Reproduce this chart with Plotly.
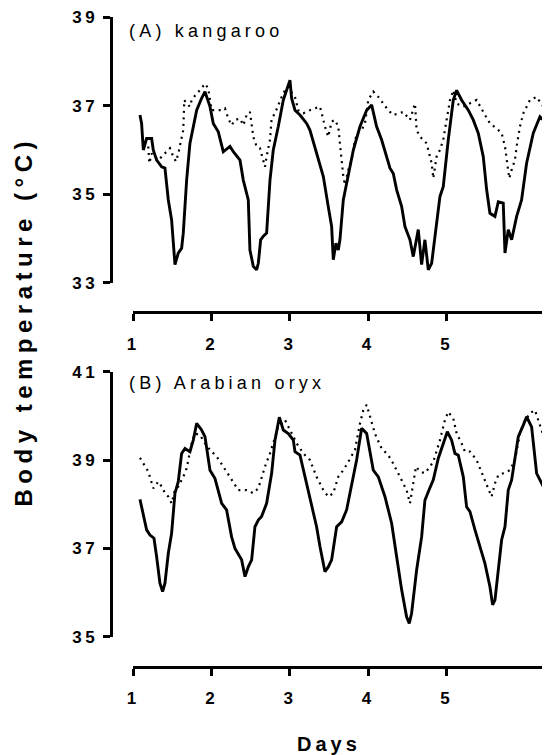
import plotly.graph_objects as go

# ---------------- data ----------------
kangaroo_solid_days = [
    1.085, 1.106, 1.128, 1.17, 1.234, 1.255, 1.298, 1.362, 1.404, 1.447,
    1.489, 1.532, 1.574, 1.617, 1.638, 1.681, 1.723, 1.766, 1.809, 1.872,
    1.915, 1.979, 2.021, 2.085, 2.149, 2.234, 2.277, 2.362, 2.404, 2.468,
    2.489, 2.532, 2.574, 2.596, 2.626, 2.66, 2.702, 2.745, 2.787, 2.851,
    2.915, 2.957, 3.0, 3.021, 3.064, 3.128, 3.213, 3.255, 3.34, 3.426,
    3.489, 3.532, 3.553, 3.587, 3.617, 3.638, 3.681, 3.745, 3.809, 3.894,
    3.979, 4.043, 4.106, 4.17, 4.234, 4.277, 4.319, 4.362, 4.426, 4.468,
    4.532, 4.574, 4.638, 4.681, 4.723, 4.766, 4.809, 4.872, 4.915, 4.957,
    5.021, 5.085, 5.128, 5.191, 5.277, 5.34, 5.404, 5.468, 5.511, 5.553,
    5.617, 5.66, 5.723, 5.745, 5.787, 5.83, 5.894, 5.957, 6.021, 6.106,
    6.191, 6.255, 6.319]
kangaroo_solid_temp = [
    36.79, 36.60, 36.0, 36.26, 36.26, 36.0, 35.77, 35.62, 35.59, 34.87,
    34.42, 33.41, 33.67, 33.78, 34.12, 35.32, 36.15, 36.53, 36.90, 37.17,
    37.32, 36.98, 36.60, 36.41, 35.96, 36.08, 35.96, 35.77, 35.32, 34.87,
    33.74, 33.37, 33.29, 33.44, 33.97, 34.05, 34.12, 35.32, 36.0, 36.53,
    37.13, 37.35, 37.58, 37.17, 36.90, 36.79, 36.60, 36.45, 35.92, 35.40,
    34.72, 34.27, 33.52, 33.89, 33.74, 33.97, 34.87, 35.47, 36.0, 36.53,
    36.90, 37.02, 36.53, 36.23, 35.85, 35.59, 35.47, 35.10, 34.72, 34.27,
    33.97, 33.59, 34.20, 33.41, 33.97, 33.29, 33.44, 34.27, 34.95, 35.17,
    36.23, 37.13, 37.35, 37.13, 36.90, 36.68, 36.38, 35.85, 35.10, 34.57,
    34.50, 34.83, 34.80, 33.67, 34.20, 33.97, 34.50, 34.87, 35.70, 36.38,
    36.75, 36.64, 36.53]

kangaroo_dot_days = [
    1.191, 1.204, 1.234, 1.277, 1.319, 1.362, 1.426, 1.468, 1.511, 1.545,
    1.574, 1.596, 1.638, 1.651, 1.681, 1.723, 1.745, 1.809, 1.851, 1.915,
    1.957, 2.0, 2.064, 2.128, 2.17, 2.213, 2.255, 2.298, 2.362, 2.404,
    2.447, 2.489, 2.532, 2.574, 2.617, 2.66, 2.681, 2.702, 2.745, 2.766,
    2.809, 2.894, 2.957, 3.0, 3.064, 3.106, 3.17, 3.255, 3.383, 3.426,
    3.447, 3.489, 3.532, 3.574, 3.617, 3.638, 3.66, 3.681, 3.702, 3.745,
    3.787, 3.83, 3.872, 3.915, 3.957, 4.0, 4.064, 4.128, 4.191, 4.255,
    4.319, 4.383, 4.447, 4.532, 4.596, 4.617, 4.66, 4.702, 4.745, 4.766,
    4.809, 4.83, 4.872, 4.915, 4.957, 5.0, 5.043, 5.085, 5.128, 5.213,
    5.298, 5.383, 5.468, 5.553, 5.638, 5.702, 5.745, 5.766, 5.8, 5.83,
    5.872, 5.894, 5.936, 5.979, 6.064, 6.149, 6.234, 6.319]
kangaroo_dot_temp = [
    36.08, 35.70, 35.92, 35.85, 35.77, 35.85, 35.96, 36.04, 35.85, 35.74,
    35.92, 36.08, 36.45, 37.13, 37.05, 36.98, 37.13, 37.28, 37.35, 37.50,
    37.39, 36.90, 36.90, 36.90, 36.94, 36.71, 36.56, 36.68, 36.71, 36.56,
    36.79, 36.86, 36.30, 36.08, 36.04, 35.77, 35.62, 35.85, 36.23, 36.71,
    36.83, 37.20, 37.43, 37.35, 37.20, 36.90, 36.83, 36.90, 36.98, 36.68,
    36.53, 36.30, 36.64, 36.68, 36.53, 36.15, 35.77, 35.40, 35.21, 35.55,
    35.77, 36.23, 36.41, 36.45, 36.60, 37.13, 37.32, 37.20, 37.05, 36.90,
    36.79, 36.83, 36.86, 36.68, 37.05, 36.45, 36.30, 36.23, 36.15, 36.0,
    35.70, 35.36, 35.85, 36.0, 36.23, 36.68, 37.13, 37.35, 37.05, 36.98,
    37.05, 37.13, 36.86, 36.60, 36.49, 36.38, 36.08, 35.77, 35.36, 35.55,
    35.77, 36.08, 36.53, 36.83, 37.13, 37.20, 36.98, 36.83]

oryx_solid_days = [
    1.085, 1.128, 1.17, 1.213, 1.264, 1.298, 1.34, 1.374, 1.404, 1.447,
    1.489, 1.532, 1.574, 1.617, 1.66, 1.723, 1.766, 1.809, 1.872, 1.915,
    1.979, 2.043, 2.128, 2.191, 2.255, 2.298, 2.383, 2.426, 2.468, 2.511,
    2.553, 2.596, 2.638, 2.702, 2.766, 2.809, 2.864, 2.915, 2.979, 3.043,
    3.064, 3.128, 3.213, 3.277, 3.34, 3.383, 3.447, 3.489, 3.532, 3.596,
    3.66, 3.723, 3.809, 3.851, 3.915, 3.979, 4.064, 4.128, 4.213, 4.298,
    4.362, 4.426, 4.489, 4.523, 4.553, 4.617, 4.681, 4.723, 4.766, 4.83,
    4.894, 4.957, 5.009, 5.064, 5.106, 5.149, 5.213, 5.255, 5.298, 5.362,
    5.426, 5.489, 5.553, 5.587, 5.617, 5.66, 5.702, 5.745, 5.787, 5.83,
    5.915, 5.979, 6.021, 6.085, 6.149, 6.234, 6.298, 6.319]
oryx_solid_temp = [
    38.11, 37.72, 37.42, 37.30, 37.23, 36.81, 36.21, 36.02, 36.21, 36.89,
    37.34, 38.25, 38.51, 39.15, 39.26, 39.19, 39.45, 39.83, 39.68, 39.53,
    38.77, 38.58, 38.02, 37.87, 37.26, 37.0, 36.74, 36.36, 36.58, 36.74,
    37.49, 37.64, 37.72, 38.02, 38.70, 39.45, 39.97, 39.68, 39.60, 39.45,
    39.19, 39.11, 38.47, 37.94, 37.49, 37.04, 36.47, 36.58, 36.74, 37.49,
    37.60, 37.87, 38.62, 39.0, 39.72, 39.60, 38.77, 38.62, 38.17, 37.57,
    36.81, 36.06, 35.45, 35.30, 35.53, 36.51, 37.26, 38.09, 38.28, 38.55,
    39.04, 39.38, 39.64, 39.45, 39.15, 39.11, 38.62, 37.94, 37.83, 37.42,
    37.04, 36.66, 36.13, 35.72, 35.83, 36.51, 37.19, 37.49, 38.32, 38.55,
    39.53, 39.79, 39.98, 39.75, 38.70, 38.40, 37.79, 37.68]

oryx_dot_days = [
    1.085, 1.128, 1.191, 1.255, 1.319, 1.362, 1.404, 1.447, 1.489, 1.532,
    1.574, 1.638, 1.681, 1.745, 1.787, 1.851, 1.915, 1.979, 2.064, 2.149,
    2.234, 2.34, 2.447, 2.532, 2.596, 2.638, 2.681, 2.745, 2.787, 2.851,
    2.936, 3.0, 3.085, 3.17, 3.255, 3.34, 3.426, 3.489, 3.553, 3.617,
    3.681, 3.745, 3.83, 3.894, 3.936, 3.979, 4.021, 4.085, 4.17, 4.255,
    4.319, 4.404, 4.489, 4.532, 4.566, 4.609, 4.66, 4.723, 4.787, 4.83,
    4.915, 4.979, 5.021, 5.085, 5.128, 5.191, 5.234, 5.298, 5.383, 5.468,
    5.532, 5.574, 5.617, 5.66, 5.723, 5.809, 5.872, 5.936, 5.979, 6.064,
    6.128, 6.191, 6.255, 6.298, 6.319]
oryx_dot_temp = [
    39.05, 38.92, 38.74, 38.36, 38.51, 38.40, 38.25, 38.17, 38.02, 38.32,
    38.40, 38.62, 38.81, 39.38, 39.60, 39.57, 39.38, 39.23, 39.08, 38.85,
    38.62, 38.32, 38.32, 38.25, 38.36, 38.62, 38.85, 39.15, 39.38, 39.75,
    39.91, 39.68, 39.38, 39.15, 39.0, 38.62, 38.32, 38.17, 38.25, 38.62,
    38.77, 38.96, 39.23, 39.83, 40.13, 40.25, 39.98, 39.60, 39.26, 39.11,
    38.92, 38.62, 38.32, 38.02, 38.36, 38.85, 38.74, 38.70, 38.85, 38.96,
    39.45, 39.91, 40.09, 39.94, 39.60, 39.38, 39.19, 39.19, 39.0, 38.62,
    38.32, 38.17, 38.47, 38.66, 38.70, 38.77, 39.0, 39.60, 39.83, 40.06,
    40.13, 39.79, 39.45, 39.15, 39.08]

x_ticks = [1, 2, 3, 4, 5]
x_tick_labels = ["1", "2", "3", "4", "5"]
top_y_ticks = [33, 35, 37, 39]
top_y_labels = ["33", "35", "37", "39"]
bottom_y_ticks = [35, 37, 39, 41]
bottom_y_labels = ["35", "37", "39", "41"]
panel_titles = ["(A) kangaroo", "(B) Arabian oryx"]
y_title = "Body temperature (°C)"
x_title = "Days"

# ---------------- layout helpers ----------------
# the page body keeps its default 8px margin, so the figure starts at (8, 8)
OFF = 8
W, H = 550 - OFF, 755 - OFF
FONT = "Liberation Sans, Arial, sans-serif"


def sp(text, px):
    return f'<span style="letter-spacing:{px}px">{text}</span>'


def px_x(p):
    return (p - OFF) / W


def px_y(p):
    return 1 - (p - OFF) / H


x_range = [1, 1 + (550 - 133.3) / 78.33]

fig = go.Figure()
solid = dict(color="black", width=2.9)
dotted = dict(color="black", width=2.2, dash="2px,4.5px")

fig.add_trace(go.Scatter(x=kangaroo_dot_days, y=kangaroo_dot_temp, mode="lines",
                         line=dotted, xaxis="x", yaxis="y", showlegend=False))
fig.add_trace(go.Scatter(x=kangaroo_solid_days, y=kangaroo_solid_temp, mode="lines",
                         line=solid, xaxis="x", yaxis="y", showlegend=False))
fig.add_trace(go.Scatter(x=oryx_dot_days, y=oryx_dot_temp, mode="lines",
                         line=dotted, xaxis="x2", yaxis="y2", showlegend=False))
fig.add_trace(go.Scatter(x=oryx_solid_days, y=oryx_solid_temp, mode="lines",
                         line=solid, xaxis="x2", yaxis="y2", showlegend=False))

tickfont = dict(family=FONT, size=17, color="black", weight="bold")
common_x = dict(range=x_range, domain=[px_x(133.3), 1.0], anchor="free",
                showline=True, linewidth=3, linecolor="black",
                ticks="outside", ticklen=7, tickwidth=3, tickcolor="black",
                tickvals=x_ticks, ticktext=[sp(t, 3.5) for t in x_tick_labels],
                tickfont=tickfont, showgrid=False, zeroline=False,
                ticklabelstandoff=8, automargin=False)
common_y = dict(anchor="free", position=px_x(110.5),
                showline=True, linewidth=3, linecolor="black",
                ticks="outside", ticklen=7, tickwidth=3, tickcolor="black",
                tickfont=tickfont, showgrid=False, zeroline=False,
                ticklabelstandoff=1, automargin=False)

fig.update_layout(
    width=W, height=H,
    margin=dict(l=0, r=0, t=0, b=0),
    paper_bgcolor="white", plot_bgcolor="white",
    xaxis=dict(**common_x, position=px_y(312.3)),
    xaxis2=dict(**common_x, position=px_y(666.7)),
    yaxis=dict(**common_y, range=[33, 39], domain=[px_y(282.7), px_y(17.3)],
               tickvals=top_y_ticks, ticktext=[sp(t, 3.5) for t in top_y_labels]),
    yaxis2=dict(**common_y, range=[35, 41], domain=[px_y(636.7), px_y(371.7)],
                tickvals=bottom_y_ticks, ticktext=[sp(t, 3.5) for t in bottom_y_labels]),
    showlegend=False,
)

fig.add_annotation(text=sp(panel_titles[0], 4.2), x=px_x(126.7), y=px_y(30.7),
                   xref="paper", yref="paper", xanchor="left", yanchor="middle",
                   showarrow=False, font=dict(family=FONT, size=18, color="black"))
fig.add_annotation(text=sp(panel_titles[1], 4.2), x=px_x(126.7), y=px_y(383.3),
                   xref="paper", yref="paper", xanchor="left", yanchor="middle",
                   showarrow=False, font=dict(family=FONT, size=18, color="black"))
fig.add_annotation(text=sp(y_title, 5.5), x=px_x(22.5), y=px_y(322),
                   xref="paper", yref="paper", xanchor="center", yanchor="middle",
                   textangle=-90, showarrow=False,
                   font=dict(family=FONT, size=24, color="black", weight="bold"))
fig.add_annotation(text=sp(x_title, 4), x=px_x(328.5), y=px_y(744),
                   xref="paper", yref="paper", xanchor="center", yanchor="middle",
                   showarrow=False,
                   font=dict(family=FONT, size=20, color="black", weight="bold"))

fig.write_html("out.html")
